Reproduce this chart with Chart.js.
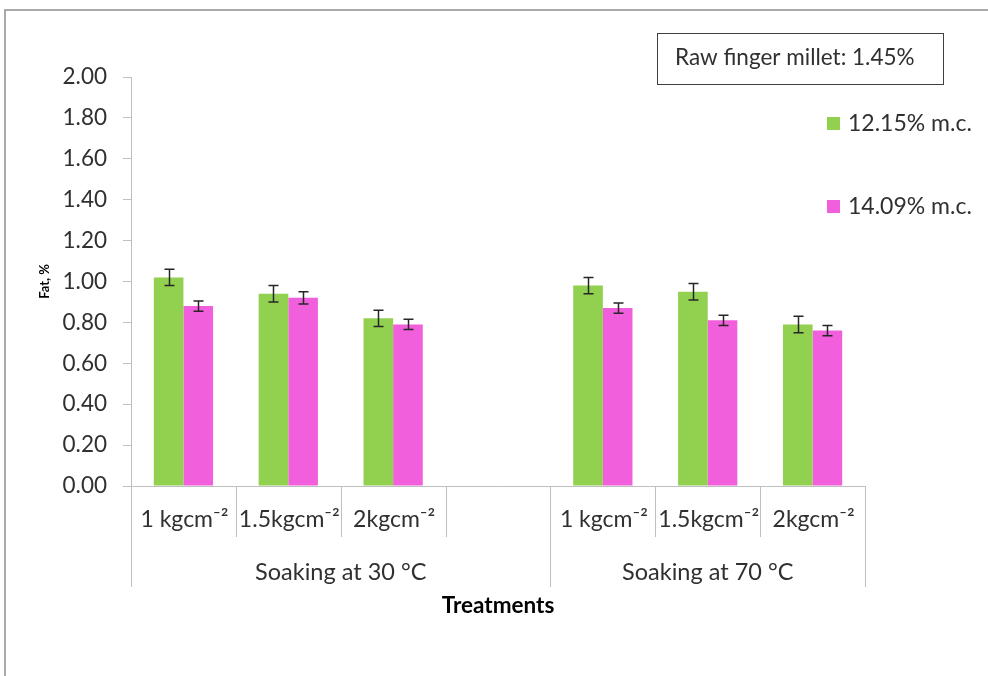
<!DOCTYPE html>
<html>
<head>
<meta charset="utf-8">
<script src="https://cdn.jsdelivr.net/npm/chart.js@4.4.1/dist/chart.umd.min.js"></script>
<style>
  html, body { margin: 0; padding: 0; background: #ffffff; overflow: hidden; }
  #wrap { position: relative; width: 988px; height: 676px; }
  #frame { position: absolute; left: 4px; top: 9px; width: 990px; height: 680px;
           border-left: 2px solid #a9a9a9; border-top: 2px solid #a9a9a9; }
  #c { position: absolute; left: 0; top: 0; }
</style>
</head>
<body>
<div id="wrap">
  <div id="frame"></div>
  <canvas id="c" width="988" height="676"></canvas>
</div>
<script>
// Treatments (the empty slot separates the two soaking temperatures)
const categories = ['1 kgcm⁻²', '1.5kgcm⁻²', '2kgcm⁻²', '', '1 kgcm⁻²', '1.5kgcm⁻²', '2kgcm⁻²'];
const groupLabels = ['Soaking at 30 °C', 'Soaking at 70 °C'];
const groupSpans = [4, 3];

// Fat content (%) by moisture content, with standard errors
const seriesNames = ['12.15% m.c.', '14.09% m.c.'];
const fatMc1215 = [1.02, 0.94, 0.82, null, 0.98, 0.95, 0.79];
const fatMc1409 = [0.88, 0.92, 0.79, null, 0.87, 0.81, 0.76];
const errMc1215 = [0.04, 0.04, 0.04, null, 0.04, 0.04, 0.04];
const errMc1409 = [0.025, 0.03, 0.025, null, 0.025, 0.025, 0.025];

const yTicks = [0, 0.2, 0.4, 0.6, 0.8, 1.0, 1.2, 1.4, 1.6, 1.8, 2.0];
const yTitle = 'Fat, %';
const xTitle = 'Treatments';
const rawNote = 'Raw finger millet: 1.45%';

const FONT = 'Lato, "Liberation Sans", sans-serif';
const TEXT = '#303030';
const AXIS = '#bfbfbf';
const GREEN = '#92d050';
const PINK = '#f25fdc';

const errorBars = {
  id: 'errorBars',
  afterDatasetsDraw(chart) {
    const ctx = chart.ctx;
    const y = chart.scales.y;
    const errs = [errMc1215, errMc1409];
    ctx.save();
    ctx.strokeStyle = '#262626';
    ctx.lineWidth = 1.5;
    chart.data.datasets.forEach((ds, di) => {
      const meta = chart.getDatasetMeta(di);
      meta.data.forEach((bar, i) => {
        const v = ds.data[i], e = errs[di][i];
        if (v == null || e == null) return;
        const top = y.getPixelForValue(v + e);
        const bot = y.getPixelForValue(v - e);
        const x = Math.round(bar.x) + 0.5;
        ctx.beginPath();
        ctx.moveTo(x, top); ctx.lineTo(x, bot);
        ctx.moveTo(x - 5, top); ctx.lineTo(x + 5, top);
        ctx.moveTo(x - 5, bot); ctx.lineTo(x + 5, bot);
        ctx.stroke();
      });
    });
    ctx.restore();
  }
};

const annotations = {
  id: 'annotations',
  afterDraw(chart) {
    const ctx = chart.ctx;
    const xs = chart.scales.x;
    const area = chart.chartArea;
    const n = categories.length;
    const step = xs.getPixelForValue(1) - xs.getPixelForValue(0);
    const edge = k => area.left + k * step;
    ctx.save();

    // category labels
    ctx.fillStyle = TEXT;
    ctx.font = '23px ' + FONT;
    ctx.textAlign = 'center';
    ctx.textBaseline = 'middle';
    categories.forEach((c, i) => {
      if (c) ctx.fillText(c, xs.getPixelForValue(i) + 1, area.bottom + 34);
    });

    // divider lines: short between categories, long at group boundaries
    const groupEdges = [0];
    groupSpans.forEach(s => groupEdges.push(groupEdges[groupEdges.length - 1] + s));
    ctx.strokeStyle = AXIS;
    ctx.lineWidth = 1;
    for (let k = 0; k <= n; k++) {
      const x = Math.round(edge(k)) + 0.5;
      const long = groupEdges.includes(k);
      ctx.beginPath();
      ctx.moveTo(x, area.bottom);
      ctx.lineTo(x, area.bottom + (long ? 101 : 51));
      ctx.stroke();
    }

    // group labels
    ctx.font = '23.5px ' + FONT;
    groupLabels.forEach((g, gi) => {
      const cx = (edge(groupEdges[gi]) + edge(groupEdges[gi + 1])) / 2;
      ctx.fillText(g, cx, area.bottom + 86);
    });

    // axis titles
    ctx.fillStyle = '#000000';
    ctx.font = 'bold 22.5px ' + FONT;
    ctx.fillText(xTitle, (area.left + area.right) / 2, area.bottom + 120);
    ctx.save();
    ctx.translate(45, (area.top + area.bottom) / 2);
    ctx.rotate(-Math.PI / 2);
    ctx.font = 'bold 13px ' + FONT;
    ctx.fillText(yTitle, 0, 0);
    ctx.restore();

    // note box
    ctx.strokeStyle = '#404040';
    ctx.lineWidth = 1;
    ctx.strokeRect(657.5, 33.5, 286, 51);
    ctx.fillStyle = TEXT;
    ctx.font = '22.5px ' + FONT;
    ctx.textAlign = 'left';
    ctx.fillText(rawNote, 675, 58);

    // legend
    ctx.font = '23px ' + FONT;
    const legendY = [123, 206];
    chart.data.datasets.forEach((ds, di) => {
      ctx.fillStyle = ds.backgroundColor;
      ctx.fillRect(827, legendY[di] - 6, 13, 13);
      ctx.fillStyle = TEXT;
      ctx.fillText(ds.label, 848, legendY[di] + 1);
    });
    ctx.restore();
  }
};

function build() {
  new Chart(document.getElementById('c'), {
    type: 'bar',
    data: {
      labels: categories,
      datasets: [
        { label: seriesNames[0], data: fatMc1215, backgroundColor: GREEN },
        { label: seriesNames[1], data: fatMc1409, backgroundColor: PINK }
      ]
    },
    options: {
      responsive: false,
      devicePixelRatio: 1,
      animation: false,
      layout: { padding: { left: 0, right: 123, top: 77, bottom: 190 } },
      datasets: { bar: { categoryPercentage: 0.565, barPercentage: 1.0 } },
      plugins: { legend: { display: false }, tooltip: { enabled: false } },
      scales: {
        x: {
          offset: true,
          ticks: { display: false },
          grid: { display: false, drawTicks: false },
          border: { color: AXIS, width: 1 }
        },
        y: {
          min: 0, max: 2,
          afterBuildTicks: s => { s.ticks = yTicks.map(v => ({ value: v })); },
          afterFit: s => { s.width = 131; },
          ticks: {
            padding: 16,
            color: TEXT,
            font: { family: FONT, size: 22.5 },
            callback: v => Number(v).toFixed(2)
          },
          grid: { drawOnChartArea: false, drawTicks: true, tickLength: 8, color: AXIS },
          border: { color: AXIS, width: 1 }
        }
      }
    },
    plugins: [errorBars, annotations]
  });
}

if (document.fonts && document.fonts.load) {
  Promise.all([document.fonts.load('22px Lato'), document.fonts.load('bold 20px Lato')])
    .then(build, build);
} else {
  build();
}
</script>
</body>
</html>
